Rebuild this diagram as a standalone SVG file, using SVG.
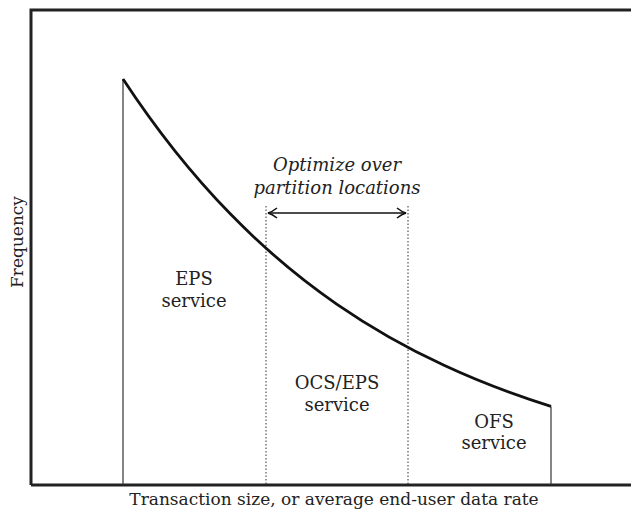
<svg xmlns="http://www.w3.org/2000/svg" width="631" height="510" viewBox="0 0 631 510">
<style>
text{font-family:'DejaVu Serif','Liberation Serif',serif;font-size:18px;fill:#222;text-anchor:middle}
.it{font-style:italic}
.axis{stroke:#222;stroke-width:3;fill:none}
.thin{stroke:#333;stroke-width:1.2;fill:none}
.dot{stroke:#333;stroke-width:1;stroke-dasharray:1.5 2;fill:none}
.curve{stroke:#111;stroke-width:2.8;fill:none;stroke-linejoin:round}
</style>
<defs>
<marker id="ah" viewBox="-10 -6 12 12" refX="0" refY="0" markerWidth="12" markerHeight="12" markerUnits="userSpaceOnUse" orient="auto-start-reverse">
<path d="M-9,-5 Q-4,-1 0,0 Q-4,1 -9,5" stroke="#111" stroke-width="1.6" fill="none"/>
</marker>
</defs>
<g id="axes">
<path class="axis" d="M31,485 V10 H631"/>
<path class="axis" d="M31,485 H631"/>
</g>
<g id="connectors">
<path class="thin" d="M123,79 V485"/>
<path class="thin" d="M551,406.4 V485"/>
<path class="dot" d="M266,206 V485"/>
<path class="dot" d="M408,206 V485"/>
<path class="curve" d="M123,79 C158.67,133.3 194.33,177 230,213.6 C265.67,250.2 301.33,279.7 337,304.3 C372.67,328.9 408.33,348.7 444,365.3 C479.67,381.9 515.33,395.2 551,406.4"/>
<path d="M268,213 H406" stroke="#111" stroke-width="1.6" fill="none" marker-start="url(#ah)" marker-end="url(#ah)"/>
</g>
<g id="optimize-label">
<text class="it" x="337" y="171">Optimize over</text>
<text class="it" x="337" y="194">partition locations</text>
</g>
<g id="eps">
<text x="194" y="285">EPS</text>
<text x="194" y="307">service</text>
</g>
<g id="ocs-eps">
<text x="337" y="389">OCS/EPS</text>
<text x="337" y="411">service</text>
</g>
<g id="ofs">
<text x="494" y="428">OFS</text>
<text x="494" y="449">service</text>
</g>
<g id="axis-labels">
<text x="334" y="505" style="font-size:17px">Transaction size, or average end-user data rate</text>
<text transform="translate(23,242) rotate(-90)" style="font-size:17px">Frequency</text>
</g>
</svg>
